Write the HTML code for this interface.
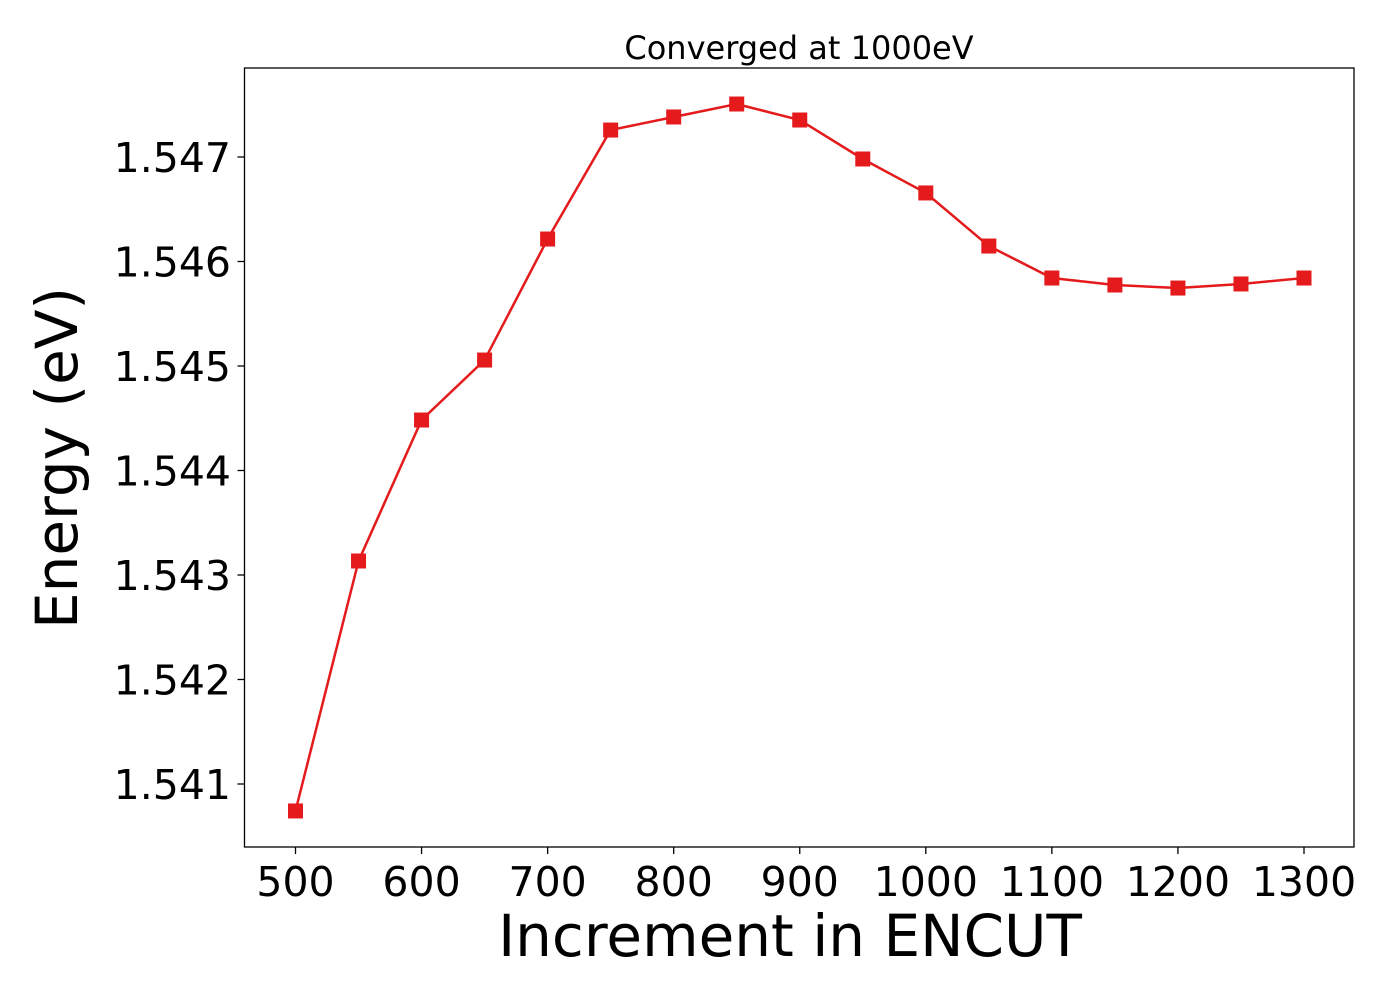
<!DOCTYPE html>
<html><head><meta charset="utf-8"><style>
body{margin:0;background:#fff}
svg text{font-family:"DejaVu Sans","Liberation Sans",sans-serif;fill:#000}
</style></head><body>
<svg width="1400" height="1000">
<g id="plot"></g>
</svg>
<script>
const xValues=[500,550,600,650,700,750,800,850,900,950,1000,1050,1100,1150,1200,1250,1300];
const energies=[1.540742,1.543134,1.544483,1.545057,1.546215,1.547258,1.547383,1.547507,1.547354,1.546981,1.546656,1.546148,1.545842,1.545775,1.545746,1.545785,1.545842];
const xTicks=[500,600,700,800,900,1000,1100,1200,1300];
const yTicks=[1.541,1.542,1.543,1.544,1.545,1.546,1.547];
const L=244.5,R=1354,T=68,B=847;
const sx=v=>295.5+(v-500)*(1304-295.5)/800;
const sy=v=>157+(1.547-v)*104500;
const g=document.getElementById('plot');const NS='http://www.w3.org/2000/svg';
function mk(t,a,txt){const e=document.createElementNS(NS,t);for(const k in a)e.setAttribute(k,a[k]);if(txt!==undefined)e.textContent=txt;g.appendChild(e);return e;}
let e=mk('rect',{x:L,y:T,width:R-L,height:B-T,fill:'none',stroke:'#000','stroke-width':1.3});


xTicks.forEach(v=>{const x=sx(v);
let t=mk('line',{x1:x,x2:x,y1:B,y2:B+7,stroke:'#000','stroke-width':1.3});


let l=mk('text',{x:x,y:896,'font-size':41,'text-anchor':'middle'},String(v));

});
yTicks.forEach(v=>{const y=sy(v);
let t=mk('line',{x1:L-7,x2:L,y1:y,y2:y,stroke:'#000','stroke-width':1.3});


let l=mk('text',{x:231,y:y+15,'font-size':41,'text-anchor':'end'},v.toFixed(3));

});
let p=mk('polyline',{points:xValues.map((v,i)=>sx(v)+','+sy(energies[i])).join(' '),fill:'none',stroke:'#e41a1c','stroke-width':2.5});


xValues.forEach((v,i)=>{let m=mk('rect',{x:sx(v)-7.5,y:sy(energies[i])-7.5,width:15,height:15,fill:'#e41a1c'});

});
let ti=mk('text',{x:799,y:59,'font-size':32,'text-anchor':'middle'},'Converged at 1000eV');


let xl=mk('text',{x:790,y:956,'font-size':58,'text-anchor':'middle'},'Increment in ENCUT');


let yl=mk('text',{x:0,y:0,'font-size':58,'text-anchor':'middle',transform:'translate(77,458) rotate(-90)'},'Energy (eV)');


</script>
</body></html>
